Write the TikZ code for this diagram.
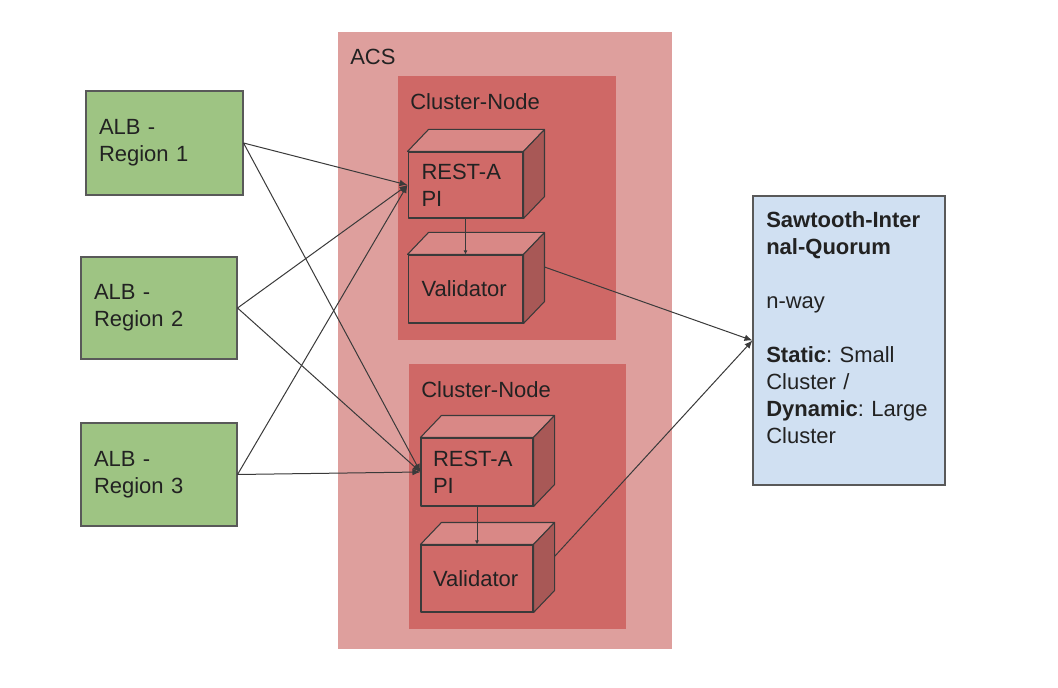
\documentclass[tikz,border=0pt]{standalone}
\usepackage{fontspec}
\setmainfont{Liberation Sans}
\usetikzlibrary{arrows.meta}
\frenchspacing
\definecolor{acsfill}{HTML}{DE9F9D}
\definecolor{cnfill}{HTML}{CF6866}
\definecolor{cubefront}{HTML}{D06A68}
\definecolor{cubetopc}{HTML}{D98886}
\definecolor{cubesidec}{HTML}{A85856}
\definecolor{albfill}{HTML}{9EC483}
\definecolor{sawfill}{HTML}{D0E0F2}
\definecolor{edgec}{HTML}{595959}
\definecolor{linec}{HTML}{3A3A3A}
\definecolor{txt}{HTML}{222222}
\newcommand{\cubefaces}[1]{%
  \draw[cubeedge, fill=cubetopc] (#1.north west) -- ++(21,-22) -- ([shift={(21,-22)}]#1.north east) -- (#1.north east) -- cycle;
  \draw[cubeedge, fill=cubesidec] (#1.north east) -- ++(21,-22) -- ([shift={(21,-22)}]#1.south east) -- (#1.south east) -- cycle;}
\begin{document}
\begin{tikzpicture}[x=0.75pt,y=-0.75pt,
  every node/.style={font=\fontsize{16.5pt}{20.25pt}\selectfont, text=txt},
  area/.style={draw=none, inner sep=0pt},
  lbl/.style={anchor=west, inner sep=0pt},
  cubeedge/.style={draw=linec, line width=0.8pt, line join=round},
  cubebox/.style={cubeedge, fill=cubefront, text width=66pt, align=left, inner ysep=0pt},
  albbox/.style={draw=edgec, line width=0.8pt, fill=albfill, text width=97.5pt, inner xsep=9.75pt, align=left},
  sawbox/.style={draw=edgec, line width=0.8pt, fill=sawfill, inner sep=0pt},
  conn/.style={draw=linec, line width=0.75pt, -{Latex[length=6pt,width=5pt]}}
]
\useasboundingbox[fill=white] (0,0) rectangle (1058,688);

% containers
\node[area, fill=acsfill, minimum width=250.5pt, minimum height=462.75pt] (acs) at (505,340.5) {};
\node[lbl] (acslbl) at (350,57) {ACS};
\node[area, fill=cnfill, minimum width=163.5pt, minimum height=198pt] (cn1) at (507,208) {};
\node[lbl] (cn1lbl) at (410,102) {Cluster-Node};
\node[area, fill=cnfill, minimum width=162.75pt, minimum height=198.75pt] (cn2) at (517.5,496.5) {};
\node[lbl] (cn2lbl) at (421,390) {Cluster-Node};

% cubes
\node[cubebox, inner xsep=10.1pt, minimum height=49.5pt] (rest1) at (465.5,185) {REST-A\\PI};
\cubefaces{rest1}
\node[cubebox, inner xsep=10.1pt, minimum height=51pt] (val1) at (465.5,289) {Validator};
\cubefaces{val1}
\node[cubebox, inner xsep=9pt, minimum height=51pt] (rest2) at (477,472) {REST-A\\PI};
\cubefaces{rest2}
\node[cubebox, inner xsep=9pt, minimum height=50.25pt] (val2) at (477,578.5) {Validator};
\cubefaces{val2}

\coordinate (v1b) at ([shift={(21,-22)}]val1.east);
\coordinate (v2b) at ([shift={(21,-22)}]val2.east);

% ALB boxes
\node[albbox, text width=98.25pt, minimum height=78pt] (alb1) at (164.5,143) {ALB -\\Region 1};
\node[albbox, minimum height=76.5pt] (alb2) at (159,308) {ALB -\\Region 2};
\node[albbox, minimum height=77.25pt] (alb3) at (159,474.5) {ALB -\\Region 3};

% Sawtooth box
\node[sawbox, minimum width=144pt, minimum height=216.75pt] (saw) at (849,340.5) {};
\node[anchor=north west, inner sep=0pt, text width=124.5pt, align=left] (sawtxt) at (766,211)
  {\textbf{Sawtooth-Inter}\\\textbf{nal-Quorum}\\[20.25pt]n-way\\[20.25pt]\textbf{Static}: Small\\Cluster /\\\textbf{Dynamic}: Large\\Cluster};

% connectors
\draw[conn] (alb1.east) -- (rest1.west);
\draw[conn] (alb1.east) -- (rest2.west);
\draw[conn] (alb2.east) -- (rest1.west);
\draw[conn] (alb2.east) -- (rest2.west);
\draw[conn] (alb3.east) -- (rest1.west);
\draw[conn] (alb3.east) -- (rest2.west);
\draw[conn, -{Latex[length=3pt,width=3pt]}] (rest1.south) -- (val1.north);
\draw[conn, -{Latex[length=3pt,width=3pt]}] (rest2.south) -- (val2.north);
\draw[conn] (v1b) -- (saw.west);
\draw[conn] (v2b) -- (saw.west);
\end{tikzpicture}
\end{document}
